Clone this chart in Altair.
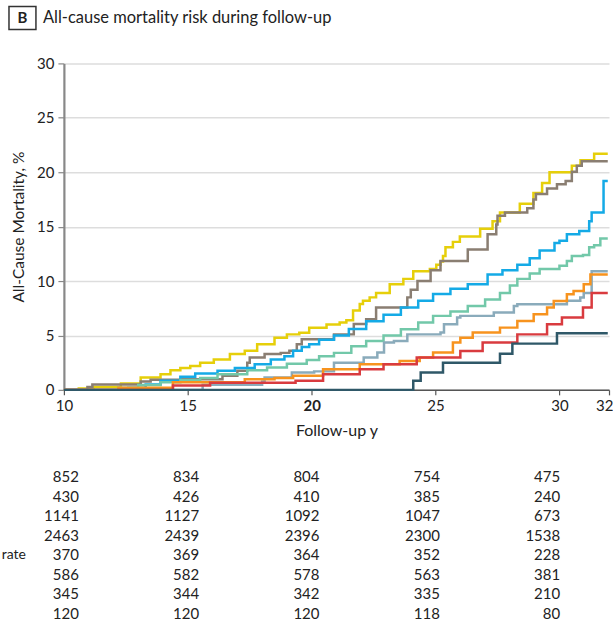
import altair as alt
import pandas as pd

# ---------------- curve data (follow-up years, cumulative mortality %) ----------------
yellow_t = [10.0, 10.6, 11.2, 12.3, 13.1, 13.9, 14.3, 14.7, 15.1, 15.5, 16.05, 16.7, 17.3, 17.8, 18.5, 19.0, 19.5, 19.9, 20.6, 21.13, 21.4, 21.67, 21.94, 22.07, 22.34, 22.6, 23.15, 23.7, 24.1, 24.77, 25.03, 25.2, 25.3, 25.4, 25.7, 25.98, 26.8, 27.3, 27.6, 28.4, 28.95, 29.3, 29.6, 30.5, 30.85, 31.4, 31.95]
yellow_y = [0, 0.12, 0.27, 0.58, 1.13, 1.44, 1.8, 2.0, 2.2, 2.5, 2.8, 3.3, 3.6, 4.2, 4.8, 5.1, 5.26, 5.7, 6.0, 6.2, 6.4, 7.3, 7.9, 8.2, 8.5, 8.9, 9.7, 10.2, 10.9, 11.1, 11.5, 11.8, 12.3, 13.1, 13.6, 14.1, 14.8, 15.5, 16.3, 17.1, 18.1, 19.0, 20.0, 20.6, 21.1, 21.7, 21.7]

brown_t = [10.0, 10.95, 11.15, 13.1, 13.5, 14.7, 16.4, 17.0, 17.4, 17.5, 18.1, 18.75, 19.1, 19.4, 19.6, 20.9, 21.7, 22.2, 22.6, 23.86, 24.0, 24.27, 24.8, 25.2, 26.3, 27.1, 27.45, 27.5, 27.8, 28.7, 28.95, 29.05, 29.5, 29.9, 30.25, 30.5, 30.7, 30.9, 31.95]
brown_y = [0, 0.27, 0.5, 0.76, 0.92, 0.98, 1.3, 1.75, 2.5, 2.97, 3.3, 3.4, 3.6, 4.2, 4.65, 5.1, 6.05, 6.5, 7.56, 8.5, 9.2, 10.0, 11.0, 11.85, 12.9, 14.3, 15.2, 16.0, 16.3, 16.7, 17.5, 18.0, 18.5, 18.9, 19.2, 20.05, 20.6, 21.0, 21.0]

blue_t = [10.0, 12.6, 13.3, 13.9, 14.7, 15.3, 16.2, 16.9, 17.7, 18.35, 18.9, 19.25, 19.6, 19.9, 20.3, 20.9, 21.5, 22.2, 22.9, 23.6, 24.3, 24.9, 25.6, 26.3, 27.1, 27.7, 28.3, 28.8, 29.2, 29.8, 30.0, 30.3, 30.8, 31.2, 31.3, 31.78, 31.95]
blue_y = [0, 0.2, 0.5, 0.83, 1.2, 1.5, 1.75, 2.0, 2.36, 2.8, 3.1, 3.6, 3.95, 4.2, 4.6, 5.0, 5.6, 6.3, 6.9, 7.56, 8.2, 8.8, 9.3, 9.7, 10.6, 11.0, 11.5, 12.1, 12.8, 13.5, 13.7, 14.3, 14.6, 15.5, 16.3, 19.2, 19.2]

teal_t = [10.0, 12.2, 13.0, 13.9, 14.7, 15.5, 16.2, 17.4, 18.2, 19.0, 19.8, 20.3, 20.9, 21.6, 22.2, 22.9, 23.6, 24.3, 24.9, 25.6, 26.3, 27.0, 27.6, 28.0, 28.3, 28.8, 29.2, 30.0, 30.3, 30.5, 30.95, 31.2, 31.4, 31.65, 31.95]
teal_y = [0, 0.2, 0.45, 0.7, 0.9, 1.1, 1.44, 1.8, 2.05, 2.4, 2.75, 3.1, 3.4, 4.0, 4.5, 5.0, 5.57, 6.2, 6.8, 7.2, 7.7, 8.3, 8.9, 9.6, 10.2, 10.7, 11.1, 11.4, 11.85, 12.3, 12.4, 13.1, 13.3, 13.9, 13.9]

grayblue_t = [10.0, 15.6, 18.0, 18.1, 19.2, 20.1, 20.9, 22.1, 22.65, 22.92, 23.32, 23.86, 25.2, 25.34, 25.87, 26.0, 27.35, 28.16, 28.3, 30.3, 30.84, 30.98, 31.3, 31.95]
grayblue_y = [0, 0.46, 0.76, 1.13, 1.6, 1.7, 2.49, 2.97, 3.43, 4.35, 4.5, 5.1, 5.27, 6.03, 6.64, 6.8, 7.1, 7.7, 7.87, 8.2, 8.48, 8.9, 10.9, 10.9]

orange_t = [10.0, 12.2, 14.4, 17.3, 18.5, 19.25, 20.46, 21.94, 23.55, 24.36, 24.9, 25.7, 26.0, 26.5, 27.6, 28.3, 28.96, 29.5, 29.77, 30.3, 30.57, 30.98, 31.25, 31.95]
orange_y = [0, 0.2, 0.7, 0.98, 1.1, 1.29, 1.9, 2.36, 2.66, 2.97, 3.43, 4.35, 4.8, 5.27, 5.72, 6.33, 6.95, 7.56, 8.17, 8.78, 9.09, 9.7, 10.6, 10.6]

red_t = [10.0, 14.4, 15.9, 19.35, 20.46, 21.94, 22.9, 24.24, 26.0, 26.9, 28.3, 29.5, 30.1, 30.95, 31.3, 31.95]
red_y = [0, 0.4, 0.65, 0.83, 1.44, 1.9, 2.36, 2.97, 3.58, 4.35, 5.1, 6.03, 6.64, 7.56, 8.9, 8.9]

slate_t = [10.0, 24.1, 24.4, 25.3, 27.6, 28.1, 29.9, 31.95]
slate_y = [0, 0.83, 1.6, 2.5, 3.33, 4.25, 5.2, 5.2]

series_names = ["Group 1", "Group 2", "Group 3", "Group 4", "Group 5", "Group 6", "Group 7", "Group 8"]
series_colors = ["#E6CF0A", "#8A7E72", "#14AAE6", "#72C8A9", "#8AABBB", "#F7931E", "#D93B3F", "#2F5868"]
series_t = [yellow_t, brown_t, blue_t, teal_t, grayblue_t, orange_t, red_t, slate_t]
series_y = [yellow_y, brown_y, blue_y, teal_y, grayblue_y, orange_y, red_y, slate_y]

# ---------------- number-at-risk table ----------------
risk_years = [10, 15, 20, 25, 30]
risk_rows = [
    [852, 834, 804, 754, 475],
    [430, 426, 410, 385, 240],
    [1141, 1127, 1092, 1047, 673],
    [2463, 2439, 2396, 2300, 1538],
    [370, 369, 364, 352, 228],
    [586, 582, 578, 563, 381],
    [345, 344, 342, 335, 210],
    [120, 120, 120, 118, 80],
]
row_labels = ["", "", "", "", "rate", "", "", ""]

x_ticks = [10, 15, 20, 25, 30, 32]
y_ticks = [0, 5, 10, 15, 20, 25, 30]

FONT = "Lato"

recs = []
for k, (name, ts, ys) in enumerate(zip(series_names, series_t, series_y)):
    for t, v in zip(ts, ys):
        recs.append({"group": name, "order": k, "t": t, "risk": v})
df = pd.DataFrame(recs)

lines = alt.Chart(df).mark_line(interpolate="step-after", strokeWidth=2.5).encode(
    x=alt.X("t:Q",
            scale=alt.Scale(domain=[10, 32], nice=False, zero=False),
            axis=alt.Axis(values=x_ticks, title="Follow-up y", grid=False,
                          domainColor="#555555", domainWidth=1.5,
                          tickColor="#555555", tickSize=5, tickWidth=1.2,
                          labelPadding=4, labelFontSize=15, labelColor="#222222",
                          labelFontWeight={"condition": {"test": "datum.value == 20", "value": "bold"}, "value": "normal"},
                          labelAlign={"condition": {"test": "datum.value == 32", "value": "right"}, "value": "center"},
                          labelOffset={"condition": {"test": "datum.value == 32", "value": 4}, "value": 0},
                          titleFontSize=16, titleFontWeight="normal", titleColor="#222222",
                          titlePadding=9, labelFlush=False)),
    y=alt.Y("risk:Q",
            scale=alt.Scale(domain=[0, 30], nice=False),
            axis=alt.Axis(values=y_ticks, title="All-Cause Mortality, %", grid=True,
                          gridColor="#dddddd", gridWidth=1.5,
                          domainColor="#888888", domainWidth=2.2,
                          tickColor="#888888", tickSize=6, tickWidth=1.2,
                          labelPadding=4, labelFontSize=15, labelColor="#222222",
                          titleFontSize=15.5, titleFontWeight="normal", titleColor="#222222",
                          titlePadding=10)),
    color=alt.Color("group:N", scale=alt.Scale(domain=series_names, range=series_colors), legend=None),
    detail="order:O",
)

one = alt.Data(values=[{"a": 1}])
box = alt.Chart(one).mark_rect(fill="white", stroke="#333333", strokeWidth=1.5).encode(
    x=alt.value(-55), x2=alt.value(-28), y=alt.value(-57), y2=alt.value(-34))
btxt = alt.Chart(one).mark_text(text="B", fontWeight="bold", fontSize=15, align="center",
                                baseline="middle", color="#222222", font=FONT).encode(
    x=alt.value(-41.5), y=alt.value(-45))
ttxt = alt.Chart(one).mark_text(text="All-cause mortality risk during follow-up", fontSize=16.5,
                                align="left", baseline="middle", color="#222222", font=FONT).encode(
    x=alt.value(-21), y=alt.value(-45))

top = alt.layer(lines, box, btxt, ttxt).properties(width=546, height=327)

trecs = []
for r, row in enumerate(risk_rows):
    for yr, v in zip(risk_years, row):
        trecs.append({"row": r, "year": yr, "n": str(v)})
tdf = pd.DataFrame(trecs)
ldf = pd.DataFrame([{"row": r, "year": 7.8, "lab": lab} for r, lab in enumerate(row_labels) if lab])

tx = alt.X("year:Q", scale=alt.Scale(domain=[9.38, 32.03], nice=False, zero=False), axis=None)
ty = alt.Y("row:O", axis=None, scale=alt.Scale(domain=list(range(8))))
nums = alt.Chart(tdf).mark_text(align="right", baseline="middle", fontSize=15, color="#222222", font=FONT).encode(
    x=tx, y=ty, text="n:N")
labs = alt.Chart(ldf).mark_text(align="right", baseline="middle", fontSize=14, color="#222222", font=FONT).encode(
    x=tx, y=ty, text="lab:N")
table = alt.layer(nums, labs).properties(width=546, height=156)

chart = alt.vconcat(top, table, spacing=29).properties(
    padding={"left": 1, "top": 5, "right": 0, "bottom": 0}
).configure(font=FONT).configure_view(strokeWidth=0)

chart.save("out.html", embed_options={"renderer": "svg", "actions": False})
